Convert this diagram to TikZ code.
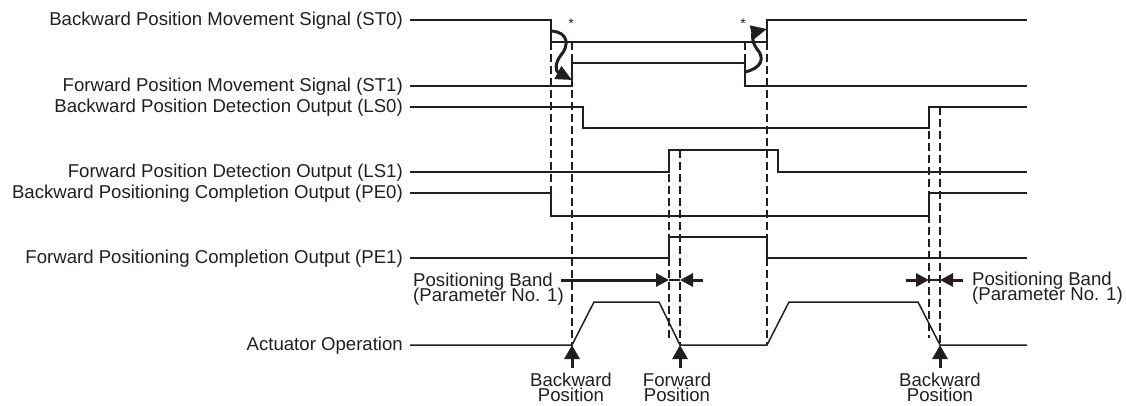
\documentclass[tikz,border=0pt]{standalone}
\usepackage{fontspec}
\setmainfont{Liberation Sans}
\usetikzlibrary{arrows.meta}
\definecolor{ink}{HTML}{231F20}
\newcommand\tightlines{\lineskiplimit-50pt\relax}
\begin{document}
\begin{tikzpicture}[x=1pt,y=-1pt,
  sig/.style={draw=ink, line width=1.5pt, line join=miter},
  dsh/.style={draw=ink, line width=2.8pt, dash pattern=on 8pt off 4pt},
  lbl/.style={anchor=base east, inner sep=0pt, text=ink, font=\fontsize{18.6}{15}\selectfont},
  note/.style={anchor=base west, inner sep=0pt, text=ink, align=left, font=\fontsize{18.6}{15}\selectfont\tightlines},
  poslbl/.style={anchor=north, inner sep=0pt, text=ink, align=center, font=\fontsize{18.6}{15}\selectfont\tightlines},
  astx/.style={inner sep=0pt, text=ink, font=\fontsize{14}{14}\selectfont},
  curvy/.style={draw=ink, line width=3pt, -{Triangle[length=16pt,width=14pt]}},
  bandarr/.style={draw=ink, line width=3pt, -{Triangle[length=13pt,width=13pt]}},
  uparr/.style={draw=ink, line width=3pt, -{Triangle[length=14pt,width=15pt]}},
]
\useasboundingbox (0,0) rectangle (1126,405);

% labels
\node[lbl] (st0) at (403,25) {Backward Position Movement Signal (ST0)};
\node[lbl] (st1) at (403,91) {Forward Position Movement Signal (ST1)};
\node[lbl] (ls0) at (403,112) {Backward Position Detection Output (LS0)};
\node[lbl] (ls1) at (403,177) {Forward Position Detection Output (LS1)};
\node[lbl] (pe0) at (403,198) {Backward Positioning Completion Output (PE0)};
\node[lbl] (pe1) at (403,263) {Forward Positioning Completion Output (PE1)};
\node[lbl] (act) at (403,350) {Actuator Operation};

% signals
\draw[sig] (410,20) -- (551,20) -- (551,42) -- (767,42) -- (767,20) -- (1027,20);
\draw[sig] (410,86) -- (572,86) -- (572,63) -- (745,63) -- (745,86) -- (1027,86);
\draw[sig] (410,107) -- (583,107) -- (583,128) -- (929,128) -- (929,107) -- (1027,107);
\draw[sig] (410,172) -- (669,172) -- (669,150) -- (778,150) -- (778,172) -- (1027,172);
\draw[sig] (410,193) -- (551,193) -- (551,216) -- (929,216) -- (929,193) -- (1027,193);
\draw[sig] (410,258) -- (669,258) -- (669,237) -- (767,237) -- (767,258) -- (1027,258);
\draw[sig] (410,345) -- (572,345) -- (594,302) -- (659,302) -- (680,345) -- (767,345)
  -- (789,302) -- (918,302) -- (940,345) -- (1027,345);

% dashed guides
\draw[dsh] (551,42) -- (551,193);
\draw[dsh] (572,42) -- (572,345);
\draw[dsh] (669,150) -- (669,342);
\draw[dsh] (680,150) -- (680,345);
\draw[dsh] (745,42) -- (745,63);
\draw[dsh] (767,42) -- (767,345);
\draw[dsh] (929,107) -- (929,338);
\draw[dsh] (940,107) -- (940,345);

% asterisks
\node[astx] (s1) at (571,24) {*};
\node[astx] (s2) at (743,24) {*};

% curvy arrows
\coordinate (c1a) at (551,31);
\coordinate (c1b) at (572,80);
\coordinate (c2a) at (745,72);
\coordinate (c2b) at (767,29);
\draw[curvy] (c1a) .. controls (569,32) and (569,46) .. (561,55)
  .. controls (555,63) and (555,71) .. (c1b);
\draw[curvy] (c2a) .. controls (762,68) and (765,58) .. (757,49)
  .. controls (750,40) and (754,32) .. (c2b);

% positioning band (left)
\node[note] (bandl) at (413,301) {Positioning Band\\(Parameter No. 1)};
\coordinate (bl1) at (561,280);
\coordinate (bl2) at (669,280);
\coordinate (bl3) at (680,280);
\coordinate (bl4) at (703,280);
\draw[bandarr] (bl1) -- (bl2);
\draw[sig] (bl2) -- (bl3);
\draw[bandarr] (bl4) -- (bl3);

% positioning band (right)
\node[note] (bandr) at (972,300) {Positioning Band\\(Parameter No. 1)};
\coordinate (br1) at (906,280);
\coordinate (br2) at (929,280);
\coordinate (br3) at (940,280);
\coordinate (br4) at (963,280);
\draw[bandarr] (br1) -- (br2);
\draw[sig] (br2) -- (br3);
\draw[bandarr] (br4) -- (br3);

% position arrows
\coordinate (p1) at (572,345);
\coordinate (p2) at (680,345);
\coordinate (p3) at (940,345);
\coordinate (q1) at (572,368);
\coordinate (q2) at (680,368);
\coordinate (q3) at (940,368);
\draw[uparr] (q1) -- (p1);
\draw[uparr] (q2) -- (p2);
\draw[uparr] (q3) -- (p3);
\node[poslbl] (bp1) at (571,373) {Backward\\Position};
\node[poslbl] (fp) at (677,373) {Forward\\Position};
\node[poslbl] (bp2) at (940,373) {Backward\\Position};
\end{tikzpicture}
\end{document}
